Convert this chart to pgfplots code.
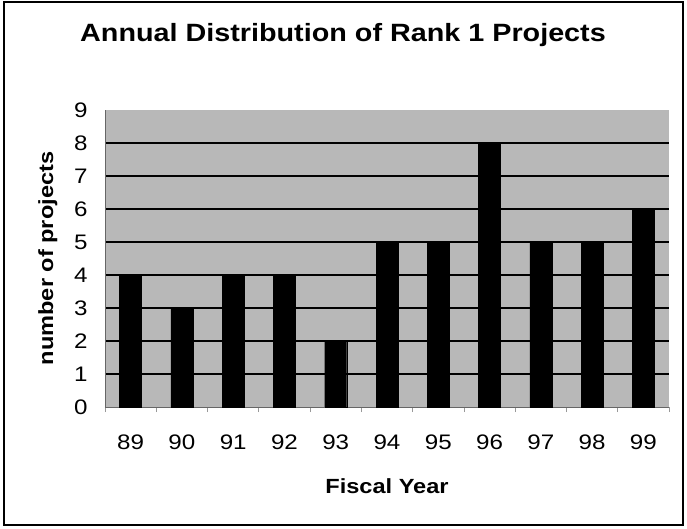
\documentclass[border=0pt]{standalone}
\usepackage{pgfplots}
\pgfplotsset{compat=1.18}
\usepackage{fontspec}
\setmainfont{Liberation Sans}[FakeStretch=1.15]
\definecolor{plotbg}{RGB}{184,184,184}
\begin{document}
\begin{tikzpicture}
\path (-105pt,-121pt) rectangle (582pt,407pt);
\draw[line width=1.2pt] (-101pt,-118pt) rectangle (578pt,405pt);
\begin{axis}[
  at={(0pt,0pt)}, anchor=south west,
  scale only axis, width=564pt, height=297pt,
  xmin=-0.5, xmax=10.5, ymin=0, ymax=9,
  ybar, bar width=22pt,
  axis background/.style={fill=plotbg},
  axis x line*=bottom, axis y line*=left,
  axis line style={draw=black!60, line width=0.8pt},
  xtick={0,...,10},
  xticklabels={89,90,91,92,93,94,95,96,97,98,99},
  major tick length=0pt,
  minor xtick={-0.5,0.5,...,10.5},
  minor tick length=5pt,
  xtick align=outside,
  minor tick style={draw=black!40, line width=0.8pt},
  ytick={1,...,8},
  extra y ticks={0,9},
  extra y tick style={grid=none},
  ymajorgrids,
  major grid style={draw=black, line width=1.2pt},
  tick label style={font=\fontsize{21}{25}\selectfont},
  /pgf/number format/assume math mode=true,
  xticklabel style={yshift=-24pt},
  yticklabel style={xshift=-14pt},
  title={Annual Distribution of Rank 1 Projects},
  title style={font=\fontsize{25}{29}\selectfont\bfseries, at={(axis description cs:0.422,1.209)}, anchor=base},
  xlabel={Fiscal Year},
  xlabel style={font=\fontsize{20.5}{24}\selectfont\bfseries, at={(axis description cs:0.5,-0.2896)}, anchor=base},
  ylabel={number of projects},
  ylabel style={font=\fontsize{20.5}{24}\selectfont\bfseries, at={(axis description cs:-0.0922,0.5)}, anchor=base, rotate=0},
]
\addplot[fill=black, draw=black] coordinates {
  (0,4) (1,3) (2,4) (3,4) (4,2) (5,5) (6,5) (7,8) (8,5) (9,5) (10,6)
};
\end{axis}
\end{tikzpicture}
\end{document}
